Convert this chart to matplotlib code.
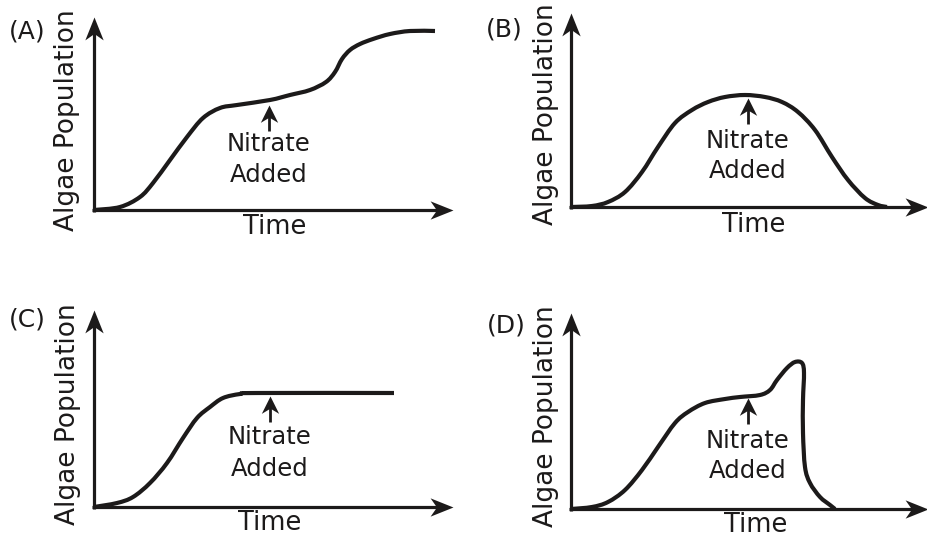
import matplotlib
matplotlib.use("Agg")
import matplotlib.pyplot as plt
import numpy as np
from matplotlib.path import Path
from matplotlib.patches import PathPatch

plt.rcParams['font.family'] = ['DejaVu Sans']
INK = '#1c1a1a'

panel_labels = ["(A)", "(B)", "(C)", "(D)"]
x_label = "Time"
y_label = "Algae Population"
note_lines = ["Nitrate", "Added"]

# curve data (time, population) in arbitrary units, origin at axes corner
time_a = [0, 26, 46, 59, 76, 93, 109, 126, 143, 176, 196, 216, 232, 241, 248, 256, 266, 279, 296, 316, 341]
pop_a = [0, 3, 13, 27, 50, 73, 92, 102, 105, 110, 115, 120, 128, 138, 151, 160, 166, 171, 176, 179, 179]

time_b = [0, 21, 37, 54, 71, 87, 104, 121, 137, 154, 174, 194, 211, 227, 244, 261, 277, 294, 307, 316]
pop_b = [0, 1, 5, 15, 35, 60, 84, 97, 105, 110, 112, 110, 105, 95, 77, 50, 27, 9, 2, 0]

time_c = [0, 23, 39, 56, 73, 89, 103, 116, 129, 146, 163, 300]
pop_c = [0, 4, 10, 24, 44, 69, 89, 100, 109, 113, 114, 114]

time_d = [0, 21, 37, 54, 71, 87, 104, 117, 134, 154, 169, 189, 199, 206, 216, 224, 231, 233, 232, 232, 234, 239, 249, 259, 264]
pop_d = [0, 2, 7, 19, 39, 62, 86, 97, 106, 110, 112, 114, 119, 129, 141, 147, 146, 136, 109, 76, 42, 26, 12, 4, 0]

# time at which nitrate was added, and the population there
nitrate_time = [175, 177, 176, 177]
nitrate_pop = [108, 112, 114, 114]

times = [time_a, time_b, time_c, time_d]
pops = [pop_a, pop_b, pop_c, pop_d]

# layout: axes extents (pixels) and origin pixel
W, H = 928, 539
boxes = [(0, 0, 464, 270), (464, 0, 464, 270), (0, 270, 464, 269), (464, 270, 464, 269)]
origins = [(94, 210), (571, 207), (94, 507), (571, 509)]
x_tip = [359, 357, 359, 357]
y_tip = [193, 194, 197, 196]
time_pos = [(181, -17), (183, -18), (176, -16), (185, -16)]
ylab_pos = [(-27, 90), (-25, 93), (-26, 93), (-25, 93)]
letter_pos = [(-67, 178), (-67, 177), (-67, 188), (-65, 183)]
nitr_y = [(66, 35), (66, 36), (70, 38), (68, 38)]


def smooth_path(xs, ys):
    pts = np.column_stack([xs, ys]).astype(float)
    n = len(pts)
    verts = [pts[0]]
    codes = [Path.MOVETO]
    for k in range(n - 1):
        p0 = pts[max(k - 1, 0)]
        p1 = pts[k]
        p2 = pts[k + 1]
        p3 = pts[min(k + 2, n - 1)]
        c1 = p1 + (p2 - p0) / 6.0
        c2 = p2 - (p3 - p1) / 6.0
        verts += [c1, c2, p2]
        codes += [Path.CURVE4] * 3
    return Path(np.array(verts), codes)


# notched arrowhead marker shapes (tip at origin)
head_right = Path([(0, 0), (-1, 0.4), (-0.72, 0), (-1, -0.4), (0, 0)],
                  [Path.MOVETO, Path.LINETO, Path.LINETO, Path.LINETO, Path.CLOSEPOLY])
head_up = Path([(0, 0), (0.4, -1), (0, -0.72), (-0.4, -1), (0, 0)],
               [Path.MOVETO, Path.LINETO, Path.LINETO, Path.LINETO, Path.CLOSEPOLY])
small_up = Path([(0, 0), (0.5, -1), (0, -0.7), (-0.5, -1), (0, 0)],
                [Path.MOVETO, Path.LINETO, Path.LINETO, Path.LINETO, Path.CLOSEPOLY])

fig = plt.figure(figsize=(W / 100, H / 100), dpi=100)
fig.patch.set_facecolor('white')

for i in range(4):
    bx, by, bw, bh = boxes[i]
    ox, oy = origins[i]
    ax = fig.add_axes([bx / W, (H - by - bh) / H, bw / W, bh / H])
    ax.set_xlim(bx - ox, bx + bw - ox)
    ax.set_ylim(-(by + bh - oy), oy - by)
    ax.axis('off')

    # axes lines with arrowheads
    ax.plot([-1.5, x_tip[i] - 12], [0, 0], color=INK, lw=2.3, solid_capstyle='butt', clip_on=False)
    ax.plot([0, 0], [-1.5, y_tip[i] - 12], color=INK, lw=2.3, solid_capstyle='butt', clip_on=False)
    ax.plot([x_tip[i]], [0], marker=head_right, markersize=33, color=INK,
            markeredgewidth=0, clip_on=False)
    ax.plot([0], [y_tip[i]], marker=head_up, markersize=33, color=INK,
            markeredgewidth=0, clip_on=False)

    # curve
    ax.add_patch(PathPatch(smooth_path(times[i], pops[i]), fill=False, ec=INK,
                           lw=3.0, capstyle='butt', joinstyle='round', clip_on=False))

    # nitrate arrow
    nt, npop = nitrate_time[i], nitrate_pop[i]
    tip = npop - 3
    ax.plot([nt, nt], [npop - 29, tip - 8], color=INK, lw=2.0, solid_capstyle='butt')
    ax.plot([nt], [tip], marker=small_up, markersize=25, color=INK, markeredgewidth=0)
    ax.text(nt, nitr_y[i][0], note_lines[0], ha='center', va='center',
            fontsize=17.5, color=INK)
    ax.text(nt, nitr_y[i][1], note_lines[1], ha='center', va='center',
            fontsize=17.5, color=INK)

    # labels
    ax.text(time_pos[i][0], time_pos[i][1], x_label, ha='center', va='center',
            fontsize=18.5, color=INK)
    ax.text(ylab_pos[i][0], ylab_pos[i][1], y_label, ha='center', va='center',
            rotation=90, fontsize=19, color=INK)
    ax.text(letter_pos[i][0], letter_pos[i][1], panel_labels[i], ha='center',
            va='center', fontsize=18, color=INK)

fig.savefig('out.png', dpi=100, facecolor='white')
